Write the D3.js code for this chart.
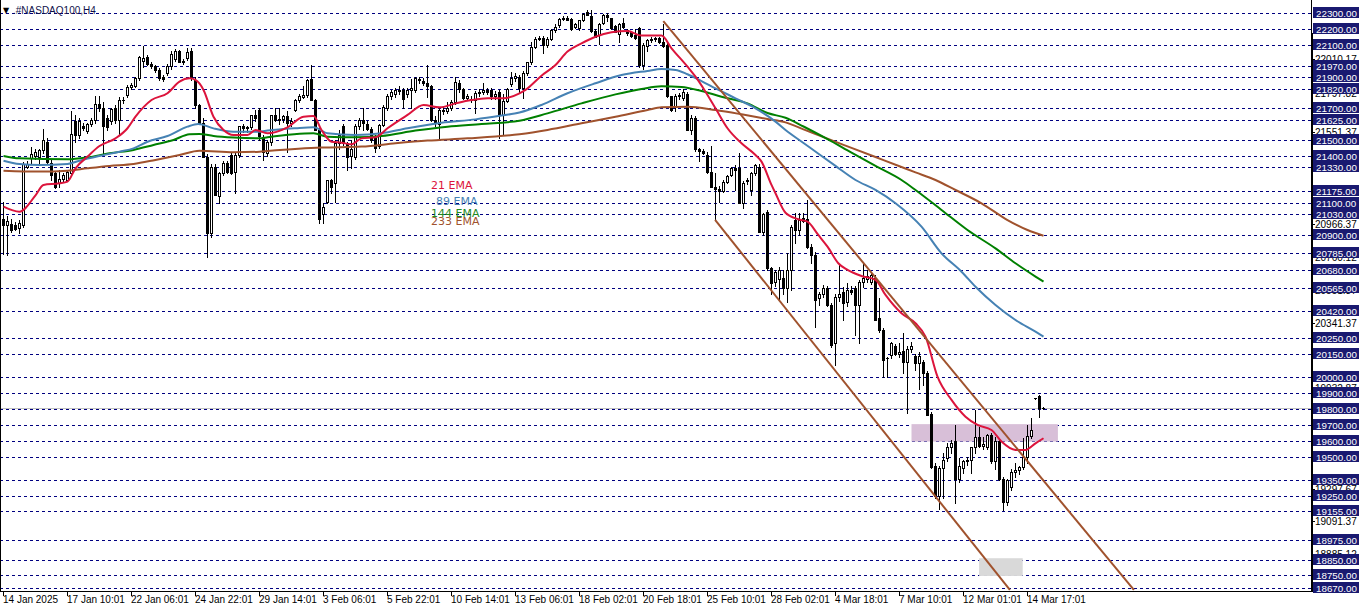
<!DOCTYPE html>
<html><head><meta charset="utf-8">
<script src="https://cdn.jsdelivr.net/npm/d3@7"></script>
<style>body{margin:0;background:#fff;overflow:hidden}svg{display:block}</style>
</head><body>
<svg id="c" width="1362" height="611"></svg>
<script>
// ---------- DATA ----------
const opens = [
21000,20960,20970,20960,20945,20965,21330,21385,21400,21390,
21436,21490,21352,21290,21225,21255,21250,21290,21620,21530,
21590,21555,21600,21625,21730,21700,21640,21620,21700,21625,
21750,21785,21835,21842,21890,22000,22025,21980,21965,21945,
21895,21920,21965,22010,22060,21995,22015,22065,21880,21720,
21610,21395,20910,21330,21145,21290,21355,21405,21300,21405,
21585,21575,21580,21655,21690,21520,21415,21490,21660,21625,
21630,21650,21610,21690,21752,21770,21785,21885,21750,21565,
21030,21110,21245,21225,21480,21585,21480,21400,21395,21585,
21625,21600,21570,21520,21460,21595,21700,21778,21790,21815,
21815,21790,21815,21815,21885,21875,21860,21840,21625,21600,
21690,21680,21705,21740,21860,21820,21765,21760,21755,21795,
21800,21815,21815,21780,21800,21660,21745,21855,21890,21900,
21826,21920,21990,22090,22140,22145,22100,22140,22195,22225,
22265,22270,22265,22215,22205,22255,22310,22280,22190,22160,
22240,22290,22270,22220,22170,22240,22195,22185,22160,22205,
21975,22095,22130,22140,22145,22120,22100,21775,21710,21775,
21765,21790,21565,21640,21440,21430,21405,21300,21205,21190,
21180,21235,21280,21320,21320,21100,21240,21185,21290,21330,
20920,21045,20690,20600,20620,20625,20563,20680,20994,20931,
21005,21000,20826,20773,20500,20530,20563,20458,20215,20510,
20540,20478,20550,20563,20458,20605,20620,20605,20626,20373,
20300,20120,20140,20200,20145,20165,20100,20180,20135,20090,
20100,20030,19770,19440,19250,19430,19490,19560,19600,19360,
19430,19470,19480,19560,19625,19570,19560,19635,19470,19600,
19360,19215,19310,19405,19415,19435,19500,19630,19868,19883,19805];
const highs = [
21110,21020,21000,20980,20995,21360,21370,21455,21440,21445,
21567,21510,21373,21300,21310,21290,21310,21685,21660,21640,
21610,21610,21640,21775,21780,21740,21660,21700,21720,21770,
21770,21845,21860,21895,22030,22095,22035,21995,21975,21955,
21910,21980,22060,22075,22070,22010,22080,22080,21900,21730,
21640,21410,21350,21345,21300,21365,21365,21420,21420,21590,
21600,21590,21660,21690,21700,21530,21500,21660,21700,21705,
21660,21680,21640,21760,21790,21840,21885,21975,21760,21575,
21100,21250,21255,21500,21560,21600,21490,21500,21600,21640,
21700,21620,21580,21530,21600,21720,21790,21815,21830,21840,
21830,21830,21885,21900,21900,21890,21975,21850,21650,21700,
21710,21740,21750,21900,21880,21830,21790,21775,21810,21820,
21860,21830,21830,21810,21815,21790,21830,21930,21925,21910,
21935,21990,22120,22152,22155,22155,22150,22200,22230,22270,
22280,22280,22270,22240,22260,22300,22320,22320,22200,22240,
22295,22300,22270,22225,22240,22270,22200,22190,22200,22215,
22110,22140,22150,22150,22150,22235,22110,21780,21790,21795,
21820,21800,21660,21650,21450,21445,21425,21460,21290,21210,
21245,21280,21330,21340,21415,21240,21260,21300,21345,21345,
21040,21060,20700,20680,20700,20680,20784,20960,21036,21040,
21040,21120,20840,20790,20540,20585,20580,20470,20530,20710,
20570,20595,20580,20580,20615,20720,20680,20660,20650,20500,
20310,20130,20225,20210,20215,20280,20200,20225,20150,20160,
20110,20040,19780,19460,19440,19520,19585,19605,19700,19490,
19480,19500,19560,19795,19690,19625,19640,19650,19625,19610,
19370,19360,19420,19460,19440,19620,19700,19742,19872,19890,19815];
const lows = [
20780,20775,20920,20930,20910,20950,21320,21350,21380,21340,
21420,21348,21247,21195,21205,21240,21240,21280,21490,21510,
21560,21545,21590,21610,21680,21405,21560,21600,21610,21530,
21735,21770,21820,21835,21880,21960,21975,21955,21930,21880,
21870,21910,21950,22000,21990,21980,22005,21880,21700,21600,
21390,20760,20890,21150,21100,21280,21290,21285,21165,21395,
21550,21550,21570,21620,21500,21375,21400,21470,21620,21600,
21615,21425,21590,21680,21740,21765,21770,21750,21560,20975,
20975,21100,21165,21110,21440,21470,21310,21320,21380,21570,
21560,21560,21490,21425,21450,21585,21690,21760,21770,21790,
21700,21770,21700,21800,21860,21850,21770,21620,21590,21505,
21665,21670,21690,21730,21800,21760,21750,21740,21670,21780,
21790,21790,21760,21760,21510,21530,21740,21840,21870,21800,
21763,21910,21980,22080,22130,22047,22090,22130,22180,22215,
22260,22255,22195,22210,22195,22250,22290,22185,22150,22105,
22230,22250,22200,22180,22120,22210,22165,22150,22140,21960,
21950,22060,22120,22125,22110,22085,21770,21680,21685,21760,
21755,21560,21540,21430,21365,21410,21290,21200,20995,21110,
21170,21225,21270,21185,21100,21070,21220,21150,21280,20920,
20900,20680,20530,20580,20490,20530,20478,20552,20847,20900,
20980,20820,20720,20320,20460,20510,20450,20195,20078,20480,
20363,20450,20530,20268,20215,20570,20600,20590,20363,20290,
20005,20005,20120,20140,20130,20025,19773,20160,20050,19930,
19950,19760,19430,19240,19170,19240,19470,19520,19205,19340,
19395,19450,19395,19520,19560,19550,19545,19460,19420,19350,
19162,19195,19290,19370,19390,19420,19460,19620,19865,19752,19800];
const closes = [
20960,20990,20932,20940,20975,21350,21350,21410,21425,21435,
21500,21362,21280,21205,21255,21280,21300,21540,21530,21620,
21575,21600,21625,21730,21700,21585,21580,21695,21625,21750,
21755,21835,21845,21890,22025,22020,21980,21965,21945,21890,
21885,21970,22045,22060,21995,22000,22058,21900,21720,21610,
21395,20910,21330,21155,21290,21355,21300,21290,21405,21585,
21575,21580,21655,21640,21525,21425,21490,21660,21625,21635,
21650,21605,21620,21750,21775,21785,21880,21750,21565,21000,
21075,21245,21205,21480,21530,21480,21395,21440,21585,21625,
21610,21570,21500,21450,21595,21710,21778,21805,21815,21810,
21760,21818,21830,21890,21880,21860,21840,21625,21610,21690,
21680,21705,21740,21865,21820,21765,21775,21755,21795,21805,
21815,21805,21780,21790,21660,21745,21820,21890,21905,21826,
21920,21990,22090,22140,22145,22100,22140,22195,22215,22265,
22270,22260,22200,22230,22257,22298,22290,22190,22152,22230,
22290,22275,22205,22185,22235,22215,22175,22155,22145,21975,
22100,22130,22140,22145,22120,22095,21775,21690,21780,21785,
21800,21565,21640,21440,21430,21420,21300,21205,21190,21180,
21235,21275,21320,21310,21100,21225,21250,21290,21340,20920,
21030,20690,20595,20665,20680,20565,20680,20952,20931,20994,
20990,20826,20773,20490,20530,20563,20458,20205,20510,20530,
20468,20550,20540,20458,20605,20630,20640,20647,20363,20300,
20110,20120,20215,20150,20160,20100,20180,20200,20090,20135,
20030,19763,19437,19250,19430,19480,19560,19585,19360,19440,
19470,19480,19560,19625,19570,19580,19635,19470,19600,19360,
19215,19350,19405,19415,19435,19500,19630,19665,19868,19810,19809];

// EMA values: [bar index, price]
const ema21 = [[0,21079],[4,21047],[8,21150],[10,21216],[14,21226],[16,21237],[18,21321],[21,21395],[24,21462],[28,21510],[31,21574],[33,21647],[37,21752],[41,21795],[44,21868],[46.5,21889],[48,21879],[50,21816],[52.5,21647],[55,21563],[57.5,21531],[61,21531],[63,21563],[66,21542],[71,21580],[75,21647],[77.5,21651],[79.5,21563],[82,21489],[84.5,21483],[87,21473],[89.5,21510],[93,21517],[96,21574],[101,21658],[105,21721],[109,21706],[113,21731],[117,21752],[121,21763],[125,21763],[129,21794],[130.5,21816],[134.5,21906],[138,21973],[141,22058],[144.5,22110],[148,22152],[152,22180],[156,22188],[159.5,22159],[164.5,22159],[167,22079],[171,21963],[173,21900],[175.5,21805],[178,21700],[181,21574],[184.5,21479],[188,21405],[189.5,21363],[192,21216],[193,21163],[195.5,21040],[198.7,20999],[201,20984],[203.7,20900],[206,20826],[208.7,20721],[211,20679],[214.5,20641],[218,20616],[220.5,20521],[224.5,20405],[228,20342],[230.5,20258],[233.5,20005],[237,19858],[240.5,19752],[243.5,19700],[247,19668],[249.5,19595],[253,19542],[255.5,19542],[258,19584],[260,19616]];
const ema89 = [[0,21369],[4,21348],[9,21342],[16,21348],[19,21369],[24,21399],[29,21426],[32.5,21447],[36,21489],[41,21525],[46,21584],[48.7,21601],[52.5,21573],[57.5,21552],[64,21552],[66,21559],[73,21574],[77.5,21580],[81,21542],[88,21531],[94.5,21542],[101,21574],[109.5,21609],[118,21630],[124.5,21654],[129,21673],[134.5,21721],[141,21795],[148,21858],[154.5,21910],[161,21936],[164.5,21948],[168,21942],[171,21915],[174.5,21872],[178,21826],[183,21763],[188,21700],[193,21616],[195.5,21563],[200,21481],[204,21408],[208,21336],[213,21247],[218,21184],[223,21100],[229.5,20952],[234.5,20784],[239.5,20668],[243,20573],[248,20458],[253,20363],[258,20289],[260,20258]];
const ema144 = [[0,21399],[4,21384],[16,21378],[21,21390],[26.5,21416],[32.5,21437],[37.5,21468],[42.5,21500],[46.5,21536],[49,21538],[52.5,21525],[57.5,21515],[64,21510],[66,21517],[77.5,21542],[81,21521],[88,21517],[94.5,21525],[103,21559],[111,21584],[119.5,21601],[129,21622],[136,21668],[144.5,21731],[153,21788],[159.5,21822],[164.5,21839],[169.5,21835],[174.5,21809],[179.5,21773],[186,21731],[191,21670],[195.5,21640],[200,21585],[206,21505],[212,21420],[218,21336],[224.5,21247],[228,21184],[234.5,21058],[241,20931],[248,20815],[253,20721],[258,20637],[260,20605]];
const ema233 = [[0,21306],[9,21300],[16,21306],[21,21321],[26.5,21336],[32.5,21348],[38,21374],[44,21405],[49,21432],[57.5,21422],[64,21426],[66,21430],[79.5,21452],[89.5,21458],[98,21479],[106,21496],[116,21510],[129,21536],[136,21563],[144.5,21605],[153,21647],[161,21689],[164.5,21706],[171,21710],[178,21689],[184.5,21662],[191,21632],[195.5,21611],[200,21567],[206,21508],[212,21450],[218,21392],[224,21334],[228,21295],[233,21247],[238,21184],[244.5,21100],[251,20994],[256,20931],[260,20895]];

// drawn objects
const upperChannel = [[164.95,22251],[282.6,18658]];
const lowerChannel = [[177.9,20995],[251.6,18658]];
const purpleZone = {i0:227, i1:263.6, p0:19705, p1:19595};
const greyZone = {i0:243.9, i1:254.8, p0:18858, p1:18746};
const bidPrice = 19809;

const levelLabels = [22300,22200,22100,21970,21900,21820,21700,21625,21500,21400,21330,21175,21100,21030,20900,20785,20680,20565,20420,20250,20150,20000,19900,19800,19700,19600,19500,19350,19250,19155,18975,18850,18750,18670];
const plainLabels = [22010.17,21797.82,21551.37,20966.37,20760.12,20551.37,20341.37,20139.12,19932.87,19297.67,19091.37,18885.12];
const timeTickIdx = [0,16,32,48,64,80,96,112,128,144,160,176,192,208,224,240,256];
const timeTickLabels = ["14 Jan 2025","17 Jan 10:01","22 Jan 06:01","24 Jan 22:01","29 Jan 14:01","3 Feb 06:01","5 Feb 22:01","10 Feb 14:01","13 Feb 06:01","18 Feb 02:01","20 Feb 18:01","25 Feb 10:01","28 Feb 02:01","4 Mar 18:01","7 Mar 10:01","12 Mar 01:01","14 Mar 17:01"];
const emaLegend = [["21 EMA","#DC143C",189],["89 EMA","#4682B4",205],["144 EMA","#1f8a1f",217],["233 EMA","#A0522D",225]];

// ---------- DRAW ----------
const W=1362,H=611, plotR=1311, plotB=591;
const FONT="'Liberation Sans', Arial, sans-serif";
const svg=d3.select("#c");
const x=d3.scaleLinear().domain([0,260]).range([3.5,1043.5]);
const y=d3.scaleLinear().domain([18670,22300]).range([588,13.3]);
const ry=p=>Math.round(y(p));

svg.append("defs").append("clipPath").attr("id","plot")
  .append("rect").attr("x",0).attr("y",0).attr("width",plotR).attr("height",plotB);
const g=svg.append("g").attr("clip-path","url(#plot)");

// gridlines (horizontal level lines)
g.selectAll("line.grid").data(levelLabels).join("line")
  .attr("x1",0).attr("x2",plotR).attr("y1",d=>ry(d)+0.5).attr("y2",d=>ry(d)+0.5)
  .attr("stroke","#000080").attr("stroke-width",1).attr("stroke-dasharray","3,3");

// bid line
g.append("line").attr("x1",0).attr("x2",plotR).attr("y1",ry(bidPrice)+0.5).attr("y2",ry(bidPrice)+0.5)
  .attr("stroke","#c0c0c0").attr("stroke-width",1);

// zones
[[purpleZone,"#D8BFD8"],[greyZone,"#d9d9d9"]].forEach(([z,c])=>{
  g.append("rect").attr("x",x(z.i0)).attr("width",x(z.i1)-x(z.i0))
   .attr("y",y(z.p0)).attr("height",y(z.p1)-y(z.p0)).attr("fill",c);
});

// candles
const bars=d3.range(opens.length).map(i=>({i,o:opens[i],h:highs[i],l:lows[i],c:closes[i]}));
const cg=g.append("g");
bars.forEach(b=>{
  const xc=x(b.i);
  const yh=ry(b.h), yl=ry(b.l);
  cg.append("line").attr("x1",xc).attr("x2",xc).attr("y1",yh).attr("y2",yl+1)
    .attr("stroke","#000").attr("stroke-width",1);
  const top=ry(Math.max(b.o,b.c)), bot=ry(Math.min(b.o,b.c));
  const h=bot-top;
  if(b.c>=b.o && h>=2){
    cg.append("rect").attr("x",xc-1).attr("y",top+0.5).attr("width",2).attr("height",h)
      .attr("fill","#fff").attr("stroke","#000").attr("stroke-width",1);
  } else {
    cg.append("rect").attr("x",xc-1.5).attr("y",top).attr("width",3).attr("height",Math.max(1,h+1))
      .attr("fill","#000");
  }
});

// EMAs
const ln=d3.line().x(d=>x(d[0])).y(d=>y(d[1])).curve(d3.curveMonotoneX);
[[ema233,"#A0522D"],[ema144,"#008000"],[ema89,"#4682B4"],[ema21,"#DC143C"]].forEach(([d,c])=>{
  g.append("path").attr("d",ln(d)).attr("fill","none").attr("stroke",c).attr("stroke-width",2);
});

// channel lines
const sl=d3.line().x(d=>x(d[0])).y(d=>y(d[1]));
[upperChannel,lowerChannel].forEach(d=>{
  g.append("path").attr("d",sl(d)).attr("fill","none").attr("stroke","#A0522D").attr("stroke-width",2);
});

// legend texts
emaLegend.forEach(([t,c,yy])=>{
  const xx = t==="89 EMA"?436:431;
  g.append("text").attr("x",xx).attr("y",yy).attr("fill",c)
   .attr("font-family","'DejaVu Sans', Verdana, sans-serif").attr("font-size",11).text(t);
});

// title
svg.append("text").attr("x",3).attr("y",13).attr("font-family","'DejaVu Sans', sans-serif").attr("font-size",8).attr("fill","#000").text("▼");
svg.append("text").attr("x",13).attr("y",14).attr("font-family",FONT).attr("font-size",10).attr("fill","#10104a").text(".#NASDAQ100,H4");

// frame
svg.append("line").attr("x1",0.5).attr("x2",0.5).attr("y1",0).attr("y2",plotB).attr("stroke","#000");
svg.append("line").attr("x1",0).attr("x2",plotR+1).attr("y1",plotB+0.5).attr("y2",plotB+0.5).attr("stroke","#000");
svg.append("line").attr("x1",plotR+0.5).attr("x2",plotR+0.5).attr("y1",0).attr("y2",plotB+1).attr("stroke","#000");
svg.append("line").attr("x1",plotR+1.5).attr("x2",plotR+1.5).attr("y1",33).attr("y2",plotB+1).attr("stroke","#000");

// time axis
const tg=svg.append("g");
timeTickIdx.forEach((ti,k)=>{
  const xx=x(ti);
  tg.append("line").attr("x1",xx).attr("x2",xx).attr("y1",plotB).attr("y2",plotB+5).attr("stroke","#000");
  tg.append("text").attr("x",xx-0.5).attr("y",plotB+12).attr("font-family",FONT).attr("font-size",10)
    .attr("fill","#000").text(timeTickLabels[k]);
});

// right price scale: plain labels first, then boxed level labels on top (as in the reference)
const pg=svg.append("g");
plainLabels.forEach(p=>{
  const yy=ry(p);
  pg.append("line").attr("x1",plotR).attr("x2",plotR+4).attr("y1",yy+0.5).attr("y2",yy+0.5).attr("stroke","#000");
  pg.append("text").attr("x",1315).attr("y",yy+4).attr("font-family",FONT).attr("font-size",10)
    .attr("fill","#000").text(p.toFixed(2));
});
levelLabels.forEach(p=>{
  const yy=ry(p);
  pg.append("rect").attr("x",1313).attr("y",yy-6).attr("width",46).attr("height",11).attr("fill","#191970");
  pg.append("text").attr("x",1316).attr("y",yy+3.5).attr("font-family",FONT).attr("font-size",9.8)
    .attr("fill","#fff").text(p.toFixed(2));
});
</script>
</body></html>
